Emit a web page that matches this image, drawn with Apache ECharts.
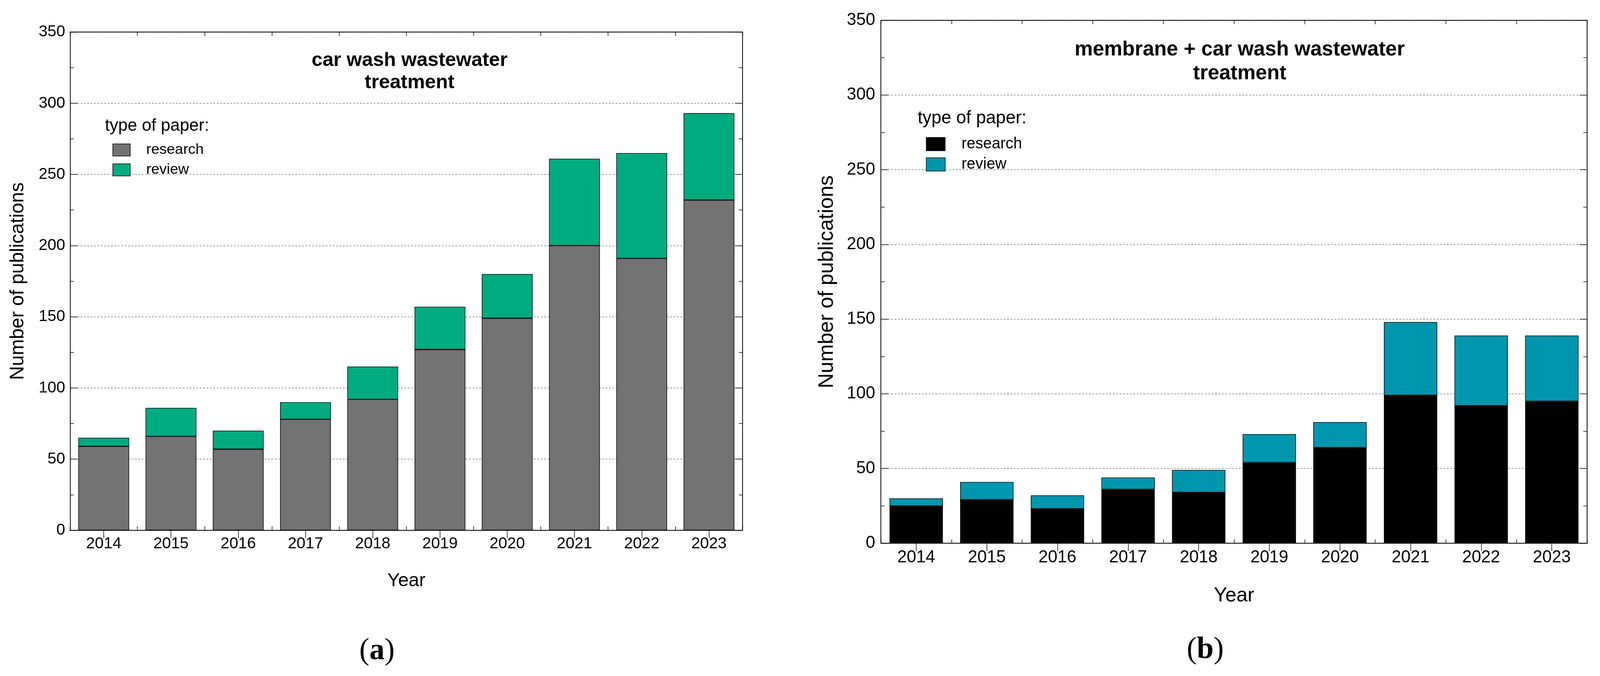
<!DOCTYPE html>
<html>
<head>
<meta charset="utf-8">
<script src="https://cdn.jsdelivr.net/npm/echarts@6/dist/echarts.min.js"></script>
<style>
html,body{margin:0;padding:0;background:#fff;overflow:hidden;width:100%;height:100%;}
#chart{width:100vw;height:100vh;}
</style>
</head>
<body>
<div id="chart"></div>
<script>
// ---- data ----
const years = ['2014','2015','2016','2017','2018','2019','2020','2021','2022','2023'];
const researchA = [59, 66, 57, 78, 92, 127, 149, 200, 191, 232];
const reviewA   = [6, 20, 13, 12, 23, 30, 31, 61, 74, 61];
const researchB = [25, 29, 23, 36, 34, 54, 64, 99, 92, 95];
const reviewB   = [5, 12, 9, 8, 15, 19, 17, 49, 47, 44];
const yMin = 0, yMax = 350, yStep = 50;
const titleA = 'car wash wastewater\ntreatment';
const titleB = 'membrane + car wash wastewater\ntreatment';
const legendTitle = 'type of paper:';
const seriesNames = ['research', 'review'];

// ---- layout (designed for a 4223 x 1731 page, scaled to the real viewport) ----
const W = window.innerWidth || 4223, H = window.innerHeight || 1731;
const sx = W / 4223, sy = H / 1731, s = Math.min(sx, sy);
const X = v => v * sx, Y = v => v * sy, S = v => v * s;

const FONT = 'Liberation Sans, Arial, Helvetica, sans-serif';
const SERIF = 'Liberation Serif, Times New Roman, serif';
const colA = ['#737373', '#00AB7F'];
const colB = ['#000000', '#0096AD'];

const gridA = {left: X(185), top: Y(82), width: X(1775), height: Y(1276)};
const gridB = {left: X(2325), top: Y(52), width: X(1864), height: Y(1339)};

function xAxes(gi, giMinor, fs, margin, nameGap, nameFs) {
  const line = {show: true, lineStyle: {color: '#000', width: S(2)}};
  const major = {show: true, inside: true, alignWithLabel: true, length: Y(20), lineStyle: {color: '#000', width: S(1.5)}};
  const minor = {show: true, inside: true, alignWithLabel: false, length: Y(10), lineStyle: {color: '#000', width: S(1.5)}};
  return [
    {gridIndex: gi, type: 'category', data: years, position: 'bottom',
     axisLine: line, axisTick: major,
     axisLabel: {show: true, color: '#000', fontSize: S(fs), fontFamily: FONT, margin: Y(margin)},
     name: 'Year', nameLocation: 'middle', nameGap: Y(nameGap),
     nameTextStyle: {color: '#000', fontSize: S(nameFs), fontFamily: FONT}},
    {gridIndex: gi, type: 'category', data: years, position: 'top',
     axisLine: line, axisTick: major, axisLabel: {show: false}},
    {gridIndex: giMinor, type: 'category', data: years, position: 'bottom',
     axisLine: line, axisTick: minor, axisLabel: {show: false}},
    {gridIndex: giMinor, type: 'category', data: years, position: 'top',
     axisLine: line, axisTick: minor, axisLabel: {show: false}}
  ];
}

function yAxes(gi, giMinor, fs, margin, nameGap, nameFs) {
  const line = {show: true, lineStyle: {color: '#000', width: S(2)}};
  const tick = {show: true, inside: true, length: X(20), lineStyle: {color: '#000', width: S(1.5)}};
  const minor = {show: true, splitNumber: 2, length: X(10), lineStyle: {color: '#000', width: S(1.5)}};
  return [
    {gridIndex: gi, type: 'value', position: 'left', min: yMin, max: yMax, interval: yStep,
     axisLine: line, axisTick: tick, minorTick: minor,
     axisLabel: {show: true, color: '#000', fontSize: S(fs), fontFamily: FONT, margin: X(margin)},
     splitLine: {show: true, lineStyle: {color: '#7a7a7a', width: S(1.5), type: [S(5), S(4)]}},
     name: 'Number of publications', nameLocation: 'middle', nameGap: X(nameGap), nameRotate: 90,
     nameTextStyle: {color: '#000', fontSize: S(nameFs), fontFamily: FONT}},
    {gridIndex: gi, type: 'value', position: 'right', min: yMin, max: yMax, interval: yStep,
     axisLine: line, axisTick: tick, minorTick: minor,
     axisLabel: {show: false}, splitLine: {show: false}},
    {gridIndex: giMinor, type: 'value', show: false, min: yMin, max: yMax, interval: yStep,
     splitLine: {show: false}}
  ];
}

const xA = xAxes(0, 1, 42, 14, 106, 50);
const xB = xAxes(2, 3, 45, 15, 109, 53);
const yA = yAxes(0, 1, 42, 13, 112, 51);
const yB = yAxes(2, 3, 45, 15, 115, 55);

function barSeries(name, data, color, xi, yi, stack) {
  return {
    type: 'bar', name: name, data: data, stack: stack,
    xAxisIndex: xi, yAxisIndex: yi,
    barCategoryGap: '24.5%',
    itemStyle: {color: color, borderColor: '#000', borderWidth: S(1.5)},
    z: 3
  };
}

function legendCfg(left, top, w, h, gap, fs, pad, colors) {
  return {
    left: X(left), top: Y(top), orient: 'vertical', padding: 0,
    itemWidth: X(w), itemHeight: Y(h), itemGap: Y(gap), icon: 'rect',
    textStyle: {color: '#000', fontSize: S(fs), fontFamily: FONT, lineHeight: Y(h), padding: [0, 0, 0, X(pad)]},
    data: seriesNames.map((n, i) => ({name: n, itemStyle: {color: colors[i], borderColor: '#000', borderWidth: S(1.5)}}))
  };
}

function panelLabel(letter, x, y) {
  return {type: 'text', x: X(x), y: Y(y), z: 10,
    style: {text: '{p|(}{b|' + letter + '}{p|)}', align: 'center', verticalAlign: 'top',
      rich: {p: {fontFamily: SERIF, fontSize: S(80), lineHeight: S(80), fill: '#000'},
             b: {fontFamily: SERIF, fontSize: S(80), fontWeight: 'bold', lineHeight: S(80), fill: '#000'}}}};
}

const option = {
  animation: false,
  backgroundColor: '#fff',
  textStyle: {fontFamily: FONT},
  grid: [
    Object.assign({containLabel: false}, gridA),
    Object.assign({containLabel: false}, gridA),
    Object.assign({containLabel: false}, gridB),
    Object.assign({containLabel: false}, gridB)
  ],
  xAxis: xA.concat(xB),
  yAxis: yA.concat(yB),
  legend: [
    legendCfg(297, 365, 46, 31, 13, 39, 37, colA),
    legendCfg(2444, 349, 50, 34, 12, 41, 38, colB)
  ],
  series: [
    barSeries(seriesNames[0], researchA, colA[0], 0, 0, 'a'),
    barSeries(seriesNames[1], reviewA, colA[1], 0, 0, 'a'),
    barSeries(seriesNames[0], researchB, colB[0], 4, 3, 'b'),
    barSeries(seriesNames[1], reviewB, colB[1], 4, 3, 'b')
  ],
  graphic: [
    {type: 'text', x: X(1081), y: Y(127), z: 10,
     style: {text: titleA, fill: '#000', font: 'bold ' + S(52) + 'px ' + FONT, align: 'center', verticalAlign: 'top', lineHeight: Y(57)}},
    {type: 'text', x: X(3272), y: Y(97), z: 10,
     style: {text: titleB, fill: '#000', font: 'bold ' + S(54) + 'px ' + FONT, align: 'center', verticalAlign: 'top', lineHeight: Y(61)}},
    {type: 'text', x: X(277), y: Y(300), z: 10,
     style: {text: legendTitle, fill: '#000', font: S(45) + 'px ' + FONT, align: 'left', verticalAlign: 'top', lineHeight: Y(45)}},
    {type: 'text', x: X(2422), y: Y(280), z: 10,
     style: {text: legendTitle, fill: '#000', font: S(47) + 'px ' + FONT, align: 'left', verticalAlign: 'top', lineHeight: Y(47)}},
    panelLabel('a', 995, 1629),
    panelLabel('b', 3181, 1626)
  ]
};

const chart = echarts.init(document.getElementById('chart'), null, {renderer: 'canvas'});
chart.setOption(option);
</script>
</body>
</html>
